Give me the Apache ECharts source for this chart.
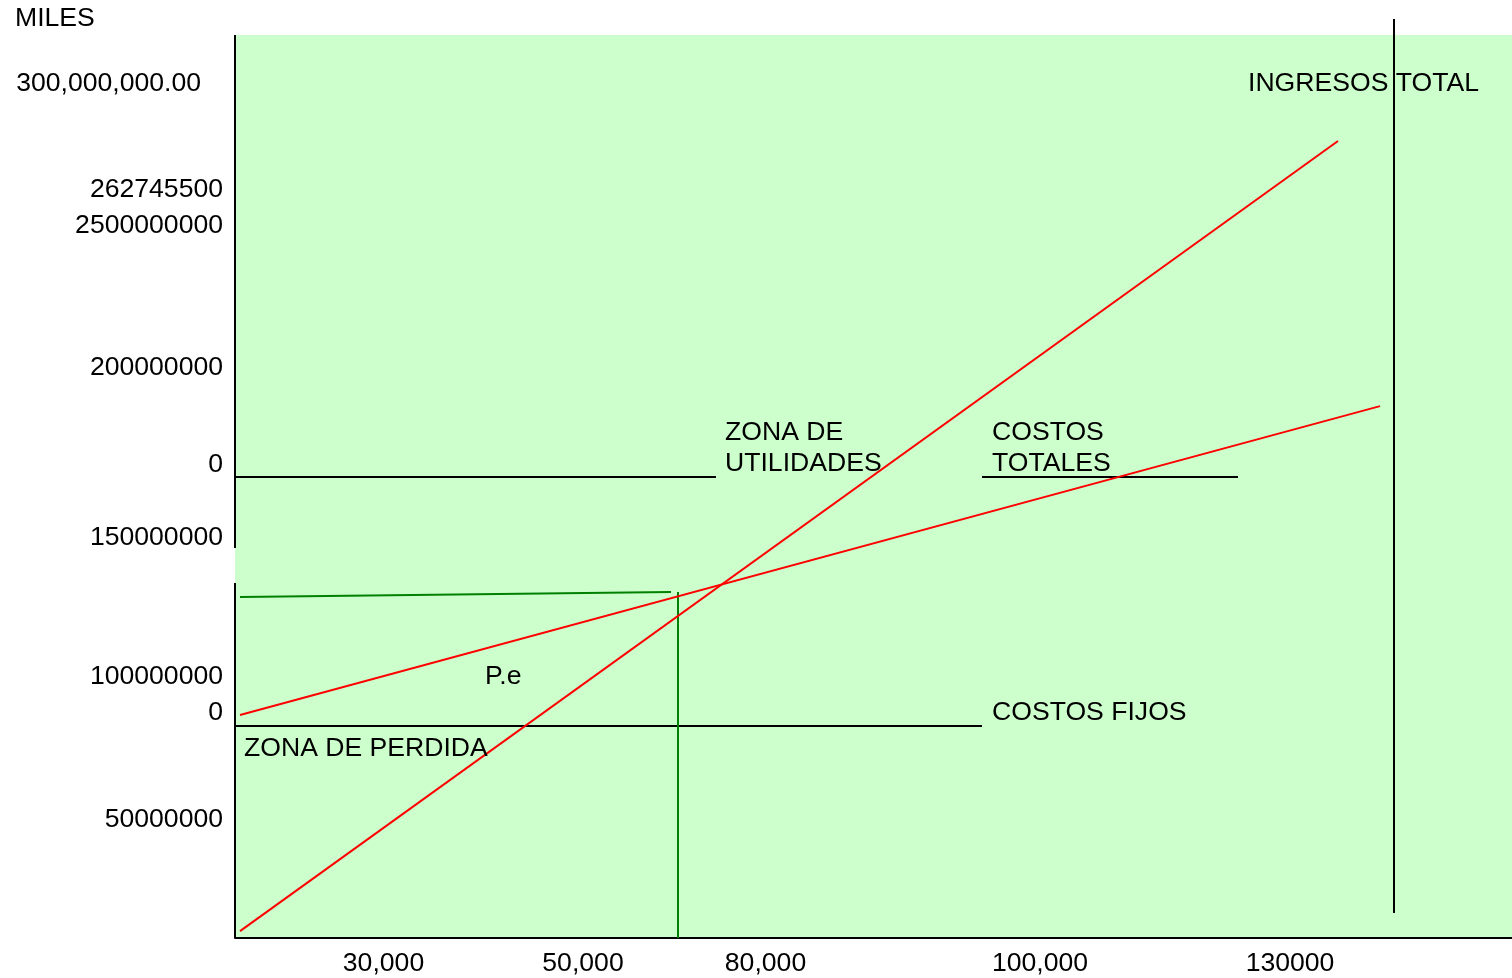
<!DOCTYPE html>
<html>
<head>
<meta charset="utf-8">
<title>Punto de equilibrio</title>
<script src="https://cdn.jsdelivr.net/npm/echarts@6/dist/echarts.min.js"></script>
<style>
  html, body { margin: 0; padding: 0; background: #ffffff; }
  #chart { width: 1512px; height: 978px; }
</style>
</head>
<body>
<div id="chart"></div>
<script>
// Quantity axis (units) and money axis (pesos)
const X_MAX = 127700;
const Y_MAX = 300000000;

// Tick labels as written on the axes, with the value each one marks
const xTickLabels = ['30,000', '50,000', '80,000', '100,000', '130000'];
const xTickValues = [14850, 34800, 53050, 80500, 105500];
const yTickLabels = ['300,000,000.00', '262745500', '2500000000', '200000000', '0', '150000000', '100000000', '0', '50000000'];
const yTickValues = [283800000, 248600000, 236600000, 189600000, 157200000, 133000000, 86800000, 74800000, 39200000];

// Revenue and cost lines
const ingresosTotales = [[500, 2300000], [110300, 264800000]];
const costosTotales = [[500, 74100000], [114500, 176700000]];

// Break-even guides
const equilibrioNivel = [[500, 113300000], [43600, 114950000]];
const equilibrioCantidad = [[44300, 114950000], [44300, 0]];

// Black reference rules under the zone labels
const reglaUtilidades = [[0, 153150000], [48100, 153150000]];
const reglaCostosTotales = [[74700, 153150000], [100300, 153150000]];
const reglaCostosFijos = [[0, 70430000], [74700, 70430000]];
const reglaFinal = [[115900, 305300000], [115900, 8300000]];

// Vertical axis drawn in two pieces (it is broken between them)
const ejeInferior = [[0, 0], [0, 117900000]];
const ejeSuperior = [[0, 129600000], [0, 300000000]];

// Annotations: text and the point where each one starts
const notasTexto = ['ZONA DE\nUTILIDADES', 'COSTOS\nTOTALES', 'INGRESOS TOTAL', 'P.e', 'COSTOS FIJOS', 'ZONA DE PERDIDA'];
const notasPunto = [
  [49000, 162600000],
  [75700, 162600000],
  [101300, 283800000],
  [25000, 86800000],
  [75700, 74800000],
  [900, 62900000]
];

const FONT = '"Liberation Sans", Arial, Helvetica, sans-serif';
const FS = 26.6;

function segment(data, color, z) {
  return {
    type: 'line',
    data: data,
    showSymbol: false,
    symbol: 'none',
    clip: false,
    silent: true,
    z: z || 3,
    animation: false,
    lineStyle: { color: color, width: 2 }
  };
}

const chart = echarts.init(document.getElementById('chart'), null, { renderer: 'canvas' });

chart.setOption({
  animation: false,
  backgroundColor: '#ffffff',
  title: {
    text: 'MILES',
    left: 15,
    top: 5,
    padding: 0,
    textStyle: { fontFamily: FONT, fontSize: FS, fontWeight: 'normal', color: '#000' }
  },
  grid: {
    left: 235,
    right: 0,
    top: 35,
    bottom: 40,
    show: true,
    backgroundColor: '#CCFFCC',
    borderWidth: 0,
    containLabel: false,
    outerBoundsMode: 'none'
  },
  xAxis: {
    type: 'value',
    min: 0,
    max: X_MAX,
    splitLine: { show: false },
    axisTick: { show: false },
    axisLine: { show: true, onZero: false, lineStyle: { color: '#000', width: 2 } },
    axisLabel: {
      customValues: xTickValues,
      margin: 12,
      fontFamily: FONT,
      fontSize: FS,
      color: '#000',
      formatter: function (v) {
        const i = xTickValues.indexOf(v);
        return i >= 0 ? xTickLabels[i] : '';
      }
    }
  },
  yAxis: {
    type: 'value',
    min: 0,
    max: Y_MAX,
    splitLine: { show: false },
    axisTick: { show: false },
    axisLine: { show: false },
    axisLabel: {
      customValues: yTickValues,
      margin: 12,
      fontFamily: FONT,
      fontSize: FS,
      color: '#000',
      formatter: function (v) {
        const i = yTickValues.indexOf(v);
        if (i < 0) return '';
        return i === 0 ? '{wide|' + yTickLabels[i] + '}' : yTickLabels[i];
      },
      rich: {
        wide: { fontFamily: FONT, fontSize: FS, color: '#000', padding: [0, 22, 0, 0] }
      }
    }
  },
  series: [
    segment(ejeInferior, '#000000', 2),
    segment(ejeSuperior, '#000000', 2),
    segment(reglaUtilidades, '#000000', 2),
    segment(reglaCostosTotales, '#000000', 2),
    segment(reglaCostosFijos, '#000000', 2),
    segment(reglaFinal, '#000000', 2),
    segment(equilibrioNivel, '#008000', 3),
    segment(equilibrioCantidad, '#008000', 3),
    segment(ingresosTotales, '#FF0000', 4),
    segment(costosTotales, '#FF0000', 4),
    {
      // Text annotations placed on the chart's own coordinates
      type: 'custom',
      silent: true,
      animation: false,
      clip: false,
      z: 5,
      data: notasPunto,
      renderItem: function (params, api) {
        const p = api.coord([api.value(0), api.value(1)]);
        return {
          type: 'text',
          x: p[0],
          y: p[1],
          style: {
            text: notasTexto[params.dataIndex],
            fill: '#000000',
            fontFamily: FONT,
            fontSize: FS,
            lineHeight: 31,
            align: 'left',
            verticalAlign: 'middle'
          }
        };
      }
    }
  ]
});
</script>
</body>
</html>
